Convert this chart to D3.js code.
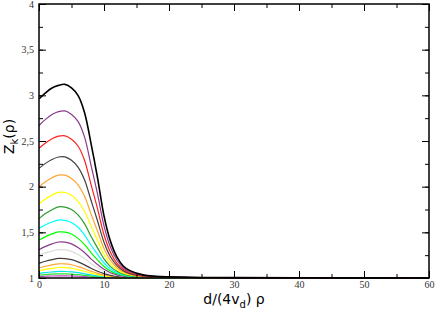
<!DOCTYPE html>
<html>
<head>
<meta charset="utf-8">
<script src="https://cdn.jsdelivr.net/npm/d3@7"></script>
<style>
  body { margin: 0; background: #fff; }
  .tick text { font-family: "Liberation Serif", serif; font-size: 10px; fill: #333; }
  .title { font-family: "DejaVu Sans", sans-serif; font-size: 14px; fill: #000; }
</style>
</head>
<body>
<script>
// x grid of the samples
var xs = [0, 1, 2, 3, 4, 5, 6, 7, 8, 9, 10, 11, 12, 13, 14, 16, 18, 20, 25, 30, 40, 60];

// one series per curve, top to bottom
var zBlack   = [2.960, 3.027, 3.080, 3.109, 3.120, 3.082, 2.999, 2.813, 2.475, 2.100, 1.681, 1.401, 1.229, 1.129, 1.081, 1.034, 1.019, 1.013, 1.006, 1.004, 1.002, 1.000];
var zPurple  = [2.670, 2.737, 2.790, 2.822, 2.829, 2.790, 2.715, 2.545, 2.236, 1.921, 1.571, 1.337, 1.194, 1.110, 1.068, 1.029, 1.016, 1.011, 1.005, 1.004, 1.002, 1.000];
var zRed     = [2.420, 2.479, 2.525, 2.553, 2.557, 2.520, 2.445, 2.290, 2.025, 1.760, 1.473, 1.280, 1.161, 1.092, 1.057, 1.024, 1.014, 1.009, 1.004, 1.003, 1.001, 1.000];
var zGrey    = [2.200, 2.255, 2.298, 2.325, 2.327, 2.290, 2.215, 2.075, 1.851, 1.627, 1.392, 1.232, 1.135, 1.078, 1.048, 1.020, 1.011, 1.007, 1.004, 1.002, 1.001, 1.000];
var zOrange  = [2.000, 2.055, 2.098, 2.126, 2.126, 2.090, 2.020, 1.898, 1.702, 1.514, 1.323, 1.192, 1.112, 1.065, 1.040, 1.017, 1.009, 1.006, 1.003, 1.002, 1.001, 1.000];
var zYellow  = [1.810, 1.865, 1.907, 1.937, 1.936, 1.905, 1.838, 1.730, 1.568, 1.413, 1.260, 1.155, 1.091, 1.053, 1.033, 1.014, 1.008, 1.005, 1.002, 1.002, 1.001, 1.000];
var zGreen4  = [1.650, 1.705, 1.748, 1.778, 1.776, 1.750, 1.692, 1.595, 1.457, 1.330, 1.209, 1.125, 1.074, 1.043, 1.027, 1.011, 1.006, 1.004, 1.002, 1.001, 1.000, 1.000];
var zCyan    = [1.545, 1.583, 1.613, 1.634, 1.631, 1.607, 1.555, 1.473, 1.361, 1.259, 1.164, 1.099, 1.059, 1.035, 1.021, 1.009, 1.005, 1.003, 1.002, 1.001, 1.000, 1.000];
var zGreen   = [1.415, 1.453, 1.483, 1.504, 1.502, 1.481, 1.434, 1.366, 1.278, 1.198, 1.126, 1.076, 1.046, 1.027, 1.017, 1.007, 1.004, 1.002, 1.001, 1.001, 1.000, 1.000];
var zViolet  = [1.310, 1.346, 1.374, 1.394, 1.392, 1.374, 1.334, 1.279, 1.210, 1.148, 1.095, 1.058, 1.035, 1.021, 1.013, 1.005, 1.003, 1.002, 1.001, 1.000, 1.000, 1.000];
var zLight   = [1.250, 1.275, 1.295, 1.310, 1.308, 1.292, 1.258, 1.213, 1.160, 1.112, 1.072, 1.044, 1.027, 1.016, 1.010, 1.004, 1.002, 1.001, 1.001, 1.000, 1.000, 1.000];
var zGrey2   = [1.160, 1.183, 1.201, 1.215, 1.213, 1.201, 1.176, 1.144, 1.107, 1.074, 1.048, 1.029, 1.018, 1.011, 1.007, 1.003, 1.002, 1.001, 1.000, 1.000, 1.000, 1.000];
var zOrange2 = [1.110, 1.129, 1.144, 1.155, 1.154, 1.145, 1.125, 1.101, 1.075, 1.051, 1.033, 1.021, 1.013, 1.008, 1.005, 1.002, 1.001, 1.001, 1.000, 1.000, 1.000, 1.000];
var zYellow2 = [1.080, 1.095, 1.106, 1.115, 1.114, 1.107, 1.092, 1.074, 1.054, 1.037, 1.024, 1.015, 1.009, 1.006, 1.003, 1.001, 1.001, 1.000, 1.000, 1.000, 1.000, 1.000];
var zCyan2   = [1.050, 1.059, 1.066, 1.072, 1.071, 1.067, 1.058, 1.046, 1.034, 1.023, 1.015, 1.009, 1.006, 1.004, 1.002, 1.001, 1.000, 1.000, 1.000, 1.000, 1.000, 1.000];
var zGreen2  = [1.032, 1.037, 1.042, 1.045, 1.045, 1.042, 1.036, 1.029, 1.021, 1.014, 1.009, 1.006, 1.004, 1.002, 1.001, 1.000, 1.000, 1.000, 1.000, 1.000, 1.000, 1.000];
var zMagenta = [1.015, 1.019, 1.022, 1.024, 1.024, 1.022, 1.019, 1.015, 1.011, 1.008, 1.005, 1.003, 1.002, 1.001, 1.001, 1.000, 1.000, 1.000, 1.000, 1.000, 1.000, 1.000];

var series = [zBlack, zPurple, zRed, zGrey, zOrange, zYellow, zGreen4, zCyan, zGreen,
              zViolet, zLight, zGrey2, zOrange2, zYellow2, zCyan2, zGreen2, zMagenta];
var colors = ["#000000", "#8b3a8b", "#ff2020", "#404040", "#ffa530", "#ffff00", "#2e9b2e", "#00ffff", "#00ff00",
              "#8b3a8b", "#dcdcdc", "#404040", "#ffa530", "#ffff00", "#00e5e5", "#30e030", "#c040c0"];

var xTicks = [0, 10, 20, 30, 40, 50, 60];
var yTicks = [1, 1.5, 2, 2.5, 3, 3.5, 4];
var yTickLabels = ["1", "1,5", "2", "2,5", "3", "3,5", "4"];

var width = 436, height = 312;
var padL = 39, padR = 429, padT = 4, padB = 278;

var svg = d3.select("body").append("svg")
    .attr("width", width)
    .attr("height", height);

var x = d3.scaleLinear().domain([0, 60]).range([padL, padR]);
var y = d3.scaleLinear().domain([1, 4]).range([padB, padT]);

var line = d3.line()
    .x(function(d, i){ return x(xs[i]); })
    .y(function(d){ return y(Math.max(1, d)); })
    .curve(d3.curveCatmullRom.alpha(0.5));

// curves, lowest first so the big ones lie on top
svg.selectAll(".curve")
    .data(series.slice().reverse())
    .enter()
    .append("path")
    .attr("class", "curve")
    .attr("fill", "none")
    .attr("stroke", function(d, i){ return colors[series.length - 1 - i]; })
    .attr("stroke-width", function(d, i){ return i == series.length - 1 ? 1.6 : 1.2; })
    .attr("d", line);

// inward ticks on all four sides
var minorX = d3.range(0, 61, 5), minorY = d3.range(1, 4.01, 0.25);
function tickAxis(axis, tr, vals, len){
    var g = svg.append("g").attr("transform", tr);
    g.call(axis.tickValues(vals).tickSize(len).tickFormat(""));
    g.select(".domain").remove();
    return g;
}
tickAxis(d3.axisTop(x), "translate(0," + padB + ")", minorX, 4);
tickAxis(d3.axisBottom(x), "translate(0," + padT + ")", minorX, 4);
tickAxis(d3.axisRight(y), "translate(" + padL + ",0)", minorY, 4);
tickAxis(d3.axisLeft(y), "translate(" + padR + ",0)", minorY, 4);
tickAxis(d3.axisTop(x), "translate(0," + padB + ")", xTicks, 7);
tickAxis(d3.axisBottom(x), "translate(0," + padT + ")", xTicks, 7);
tickAxis(d3.axisRight(y), "translate(" + padL + ",0)", yTicks, 7);
tickAxis(d3.axisLeft(y), "translate(" + padR + ",0)", yTicks, 7);

// tick labels
var xLab = svg.append("g")
    .attr("transform", "translate(0," + padB + ")")
    .call(d3.axisBottom(x).tickValues(xTicks).tickSize(0).tickPadding(3));
var yLab = svg.append("g")
    .attr("transform", "translate(" + padL + ",0)")
    .call(d3.axisLeft(y).tickValues(yTicks).tickSize(0).tickPadding(5)
        .tickFormat(function(d, i){ return yTickLabels[i]; }));
xLab.select(".domain").remove();
yLab.select(".domain").remove();

// frame
svg.append("rect")
    .attr("x", padL).attr("y", padT)
    .attr("width", padR - padL).attr("height", padB - padT)
    .attr("fill", "none").attr("stroke", "#000").attr("stroke-width", 1.5);

// axis titles
var xt = svg.append("text").attr("class", "title")
    .attr("x", (padL + padR) / 2).attr("y", 304)
    .attr("text-anchor", "middle");
xt.append("tspan").text("d/(4v");
xt.append("tspan").attr("dy", 4).attr("font-size", "10px").text("d");
xt.append("tspan").attr("dy", -4).text(") \u03c1");

var yt = svg.append("text").attr("class", "title")
    .attr("transform", "translate(14," + y(2.55) + ") rotate(-90)")
    .attr("text-anchor", "middle");
yt.append("tspan").text("Z");
yt.append("tspan").attr("dy", 4).attr("font-size", "10px").text("k");
yt.append("tspan").attr("dy", -4).text("(\u03c1)");
</script>
</body>
</html>
